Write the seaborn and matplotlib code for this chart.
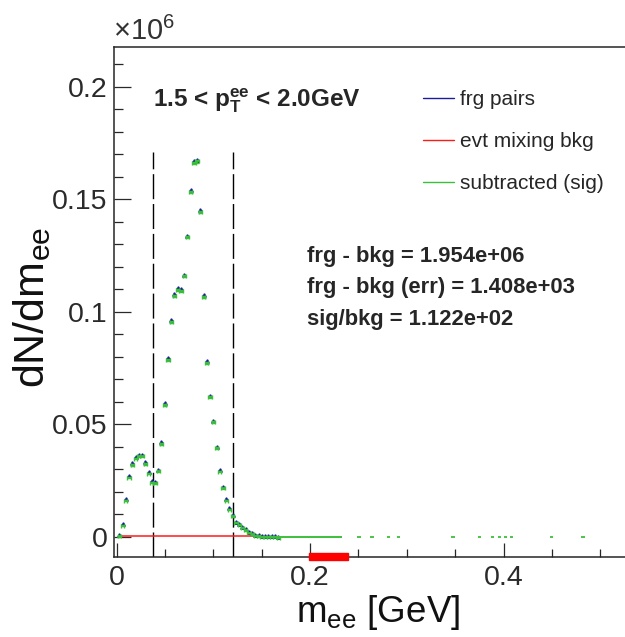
import numpy as np
import matplotlib
matplotlib.use("Agg")
import matplotlib.pyplot as plt
import seaborn as sns
from matplotlib.lines import Line2D
from matplotlib.patches import Rectangle

# dielectron invariant mass, bin centres [GeV]
m_ee = [0.0027, 0.0061, 0.0094, 0.0128, 0.0161, 0.0195, 0.0228, 0.0262, 0.0295, 0.0329,
        0.0362, 0.0396, 0.0429, 0.0463, 0.0496, 0.0530, 0.0563, 0.0597, 0.0630, 0.0664,
        0.0697, 0.0731, 0.0764, 0.0798, 0.0831, 0.0865, 0.0898, 0.0932, 0.0965, 0.0999,
        0.1032, 0.1066, 0.1099, 0.1133, 0.1166, 0.1200, 0.1233, 0.1267, 0.1300, 0.1334,
        0.1367, 0.1401, 0.1434, 0.1468, 0.1501, 0.1535, 0.1568, 0.1602, 0.1635, 0.1669]
# foreground pairs, dN/dm in units of 1e6
frg = [0.0008, 0.0058, 0.0169, 0.0271, 0.0327, 0.0354, 0.0364, 0.0364, 0.0330, 0.0286,
       0.0246, 0.0245, 0.0298, 0.0419, 0.0593, 0.0793, 0.0961, 0.1078, 0.1105, 0.1100,
       0.1165, 0.1338, 0.1539, 0.1668, 0.1676, 0.1450, 0.1073, 0.0779, 0.0627, 0.0516,
       0.0400, 0.0295, 0.0221, 0.0166, 0.0126, 0.0097, 0.0067, 0.0056, 0.0044, 0.0033,
       0.0022, 0.0015, 0.0009, 0.0006, 0.0003, 0.0002, 0.0001, 0.0001, 0.0001, 0.0000]
# event mixing background
bkg = [0.0003, 0.0005, 0.0005, 0.0004, 0.0004, 0.0003, 0.0003, 0.0003, 0.0003, 0.0003,
       0.0003, 0.0003, 0.0003, 0.0003, 0.0003, 0.0003, 0.0003, 0.0003, 0.0003, 0.0003,
       0.0003, 0.0003, 0.0003, 0.0003, 0.0003, 0.0003, 0.0003, 0.0002, 0.0002, 0.0002,
       0.0002, 0.0002, 0.0002, 0.0002, 0.0002, 0.0002, 0.0001, 0.0001, 0.0001, 0.0001,
       0.0001, 0.0001, 0.0001, 0.0001, 0.0001, 0.0000, 0.0000, 0.0000, 0.0000, 0.0000]
# subtracted signal: flat empty range and isolated tail bins at zero
sig_flat = (0.150, 0.2325)
sig_tail_m = [0.2505, 0.2640, 0.2810, 0.2915, 0.3478, 0.3750, 0.3885, 0.3955,
              0.4020, 0.4080, 0.4495, 0.4822]
half_bin = 0.00167

cut_lines = [0.038, 0.12]
norm_window = (0.199, 0.239)

stats_text = ["frg - bkg = 1.954e+06", "frg - bkg (err) = 1.408e+03", "sig/bkg = 1.122e+02"]

frg = np.array(frg)
bkg = np.array(bkg)
sig = frg - bkg
err = np.sqrt(np.abs(frg) * 1e6) / 1e6 * 1.5

sns.set_style("ticks")
plt.rcParams["font.family"] = ["Liberation Sans", "DejaVu Sans"]
plt.rcParams["mathtext.fontset"] = "custom"
plt.rcParams["mathtext.rm"] = "Liberation Sans"
plt.rcParams["mathtext.it"] = "Liberation Sans"
plt.rcParams["mathtext.bf"] = "Liberation Sans:bold"

W, H = 625, 637
L, R, T, B = 114.3, 625.0, 47.3, 556.7
fig = plt.figure(figsize=(W / 100, H / 100), dpi=100)
ax = fig.add_axes([L / W, (H - B) / H, (R - L) / W, (B - T) / H])

blue = "#1c1c9a"
red = "#ff1a1a"
green = "#3cc03c"

# event mixing background as a step line
ax.step(m_ee[:45], bkg[:45], where="mid", color=red, lw=1.1, zorder=3)

# foreground pairs
ax.errorbar(m_ee, frg, xerr=half_bin, fmt="^", ms=2.5, color=blue, mec=blue,
            elinewidth=0.9, zorder=4)

# subtracted signal
ax.errorbar(m_ee, sig - 0.0004, xerr=half_bin, yerr=err, fmt="none", ecolor=green,
            elinewidth=1.2, capsize=1.5, zorder=5)
ax.hlines(0, sig_flat[0], sig_flat[1], color=green, lw=1.4, zorder=5)
ax.errorbar(sig_tail_m, np.zeros(len(sig_tail_m)), xerr=half_bin, fmt="none",
            ecolor=green, elinewidth=1.3, zorder=5)

# mass window cuts
for xc in cut_lines:
    ax.plot([xc, xc], [-0.0089, 0.171], color="black", lw=1.0,
            dashes=(18, 3.5), zorder=2)

# normalisation window marker on the axis
ax.add_patch(Rectangle((norm_window[0], -0.0104), norm_window[1] - norm_window[0], 0.0031,
                       color="red", clip_on=False, zorder=10))

ax.set_xlim(-0.0025, 0.5256)
ax.set_ylim(-0.0089, 0.2175)

ax.set_xticks([0, 0.2, 0.4])
ax.set_xticklabels(["0", "0.2", "0.4"])
ax.set_xticks(np.arange(0, 0.55, 0.05), minor=True)
ax.set_yticks([0, 0.05, 0.1, 0.15, 0.2])
ax.set_yticklabels(["0", "0.05", "0.1", "0.15", "0.2"])
ax.set_yticks(np.arange(0, 0.215, 0.01), minor=True)

ax.tick_params(axis="x", which="major", direction="in", length=10, width=0.9,
               labelsize=20.5, pad=6, colors="#2a2a2a")
ax.tick_params(axis="x", which="minor", direction="in", length=5.8, width=0.9)
ax.tick_params(axis="y", which="major", direction="in", length=12, width=0.9,
               labelsize=20.5, pad=5, colors="#2a2a2a")
ax.tick_params(axis="y", which="minor", direction="in", length=6.5, width=0.9)
for s in ["left", "bottom", "top"]:
    ax.spines[s].set_linewidth(1.1)
ax.spines["right"].set_visible(False)

ax.set_ylabel(r"dN/dm$_{\rm ee}$", fontsize=31, color="#111111")
ax.yaxis.set_label_coords((53 - L) / (R - L), (B - 307) / (B - T))
ax.set_xlabel(r"m$_{\rm ee}$ [GeV]", fontsize=26.5, color="#111111")
ax.xaxis.set_label_coords((378 - L) / (R - L), -(593 - B) / (B - T))

ax.text(-0.003, (B - 40) / (B - T), r"$\times$10$^{6}$", transform=ax.transAxes,
        fontsize=21, color="#333333", ha="left", va="baseline")

ax.text((153.3 - L) / (R - L), (B - 101) / (B - T),
        r"1.5 < $\mathbf{p}_{\mathbf{T}}^{\mathbf{ee}}$ < 2.0GeV",
        transform=ax.transAxes, fontsize=17.5, fontweight="bold", va="center", ha="left")

for i, line in enumerate(stats_text):
    ax.text((307 - L) / (R - L), (B - (256.7 + 31.3 * i)) / (B - T), line,
            transform=ax.transAxes, fontsize=15.8, fontweight="bold", va="center", ha="left")

handles = [Line2D([], [], color=blue, lw=1), Line2D([], [], color=red, lw=1),
           Line2D([], [], color=green, lw=1)]
ax.legend(handles, ["frg pairs", "evt mixing bkg", "subtracted (sig)"],
          loc="upper left", bbox_to_anchor=((423 - L) / (R - L), (B - 90) / (B - T)),
          frameon=False, fontsize=15, handlelength=1.5, handletextpad=0.3,
          labelspacing=1.1, borderpad=0, borderaxespad=0)

fig.savefig("out.png", dpi=100)
